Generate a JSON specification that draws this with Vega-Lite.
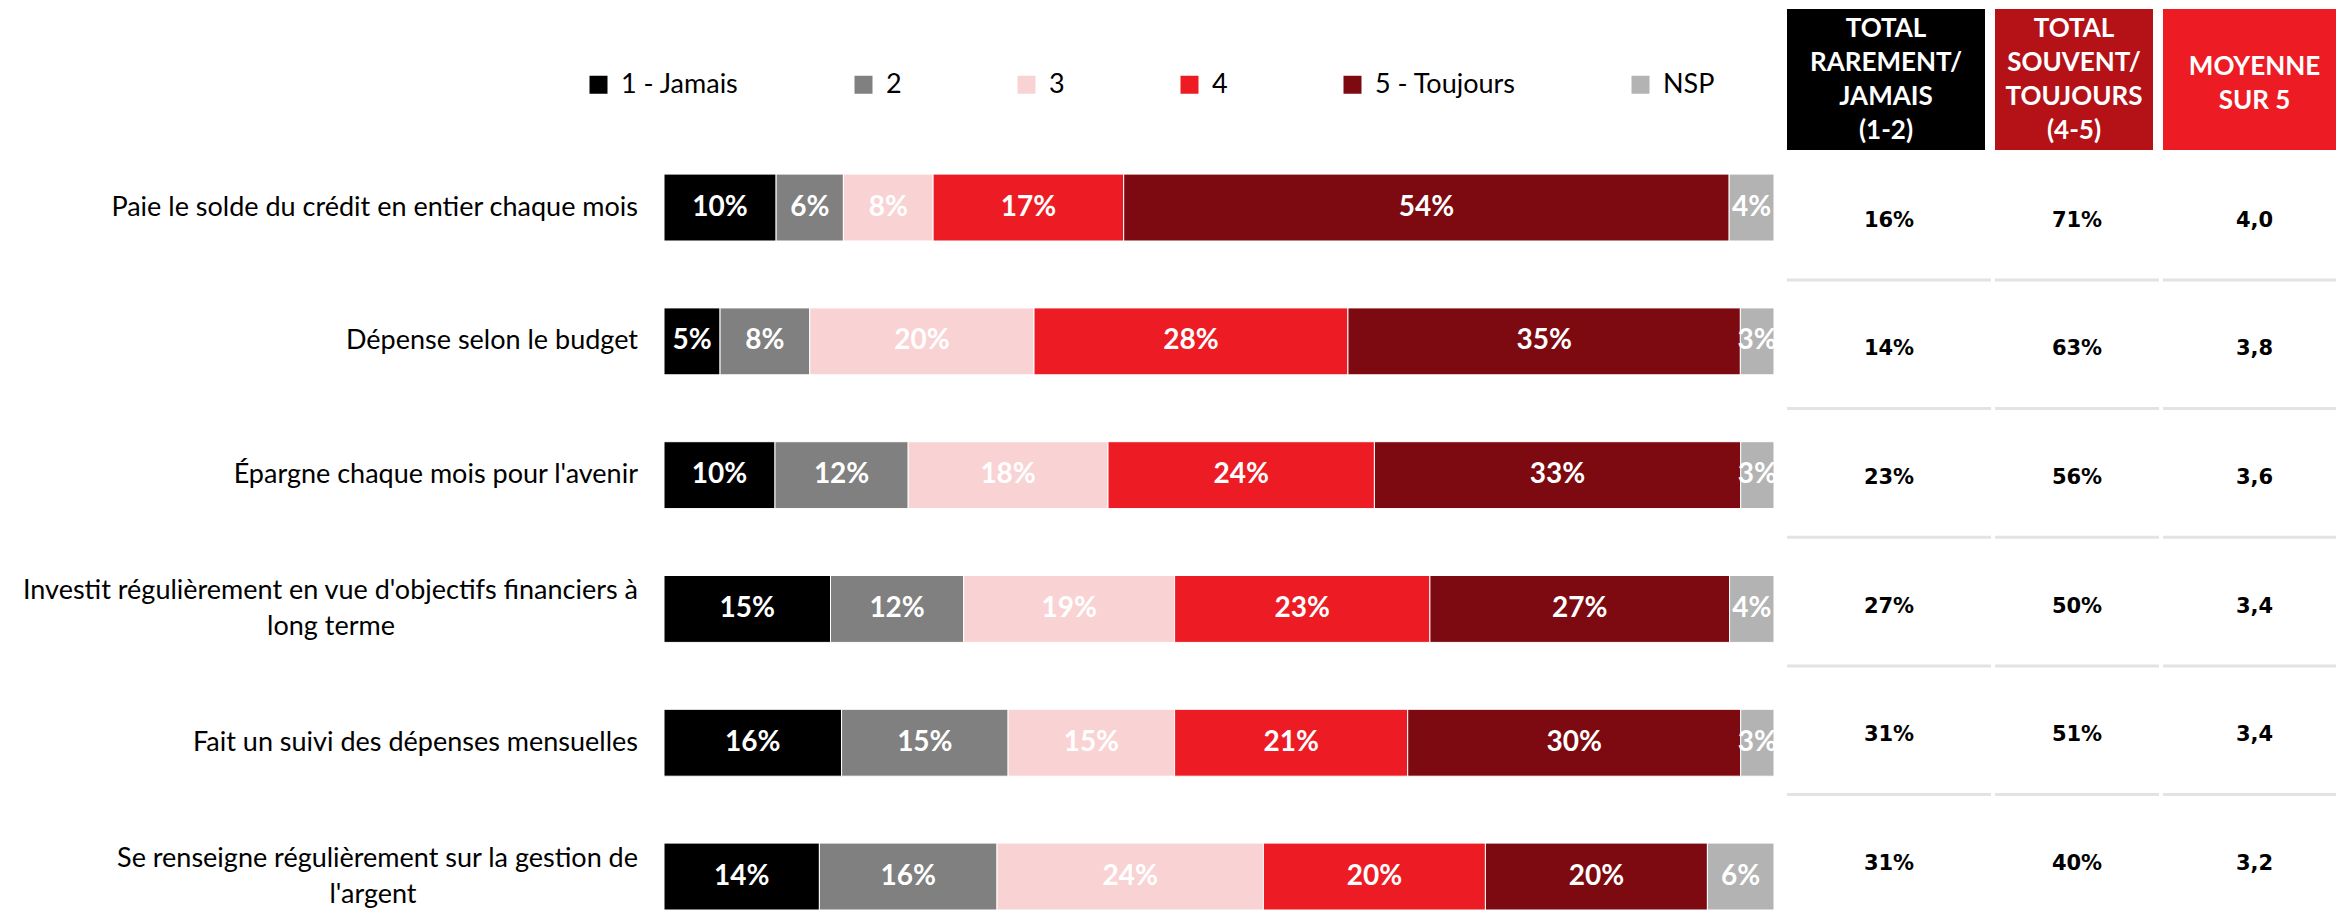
{
  "$schema": "https://vega.github.io/schema/vega-lite/v6.json",
  "background": "white",
  "padding": {"left": 22, "top": 9, "right": 0, "bottom": 0},
  "config": {
    "view": {"stroke": null},
    "font": "Lato",
    "locale": {"number": {"decimal": ",", "thousands": " ", "grouping": [3], "currency": ["", " €"]}}
  },
  "datasets": {
    "bars": [
      {"item": "Paie le solde du crédit en entier chaque mois", "cat": "1 - Jamais", "pct": 0.10},
      {"item": "Paie le solde du crédit en entier chaque mois", "cat": "2", "pct": 0.06},
      {"item": "Paie le solde du crédit en entier chaque mois", "cat": "3", "pct": 0.08},
      {"item": "Paie le solde du crédit en entier chaque mois", "cat": "4", "pct": 0.17},
      {"item": "Paie le solde du crédit en entier chaque mois", "cat": "5 - Toujours", "pct": 0.54},
      {"item": "Paie le solde du crédit en entier chaque mois", "cat": "NSP", "pct": 0.04},
      {"item": "Dépense selon le budget", "cat": "1 - Jamais", "pct": 0.05},
      {"item": "Dépense selon le budget", "cat": "2", "pct": 0.08},
      {"item": "Dépense selon le budget", "cat": "3", "pct": 0.20},
      {"item": "Dépense selon le budget", "cat": "4", "pct": 0.28},
      {"item": "Dépense selon le budget", "cat": "5 - Toujours", "pct": 0.35},
      {"item": "Dépense selon le budget", "cat": "NSP", "pct": 0.03},
      {"item": "Épargne chaque mois pour l'avenir", "cat": "1 - Jamais", "pct": 0.10},
      {"item": "Épargne chaque mois pour l'avenir", "cat": "2", "pct": 0.12},
      {"item": "Épargne chaque mois pour l'avenir", "cat": "3", "pct": 0.18},
      {"item": "Épargne chaque mois pour l'avenir", "cat": "4", "pct": 0.24},
      {"item": "Épargne chaque mois pour l'avenir", "cat": "5 - Toujours", "pct": 0.33},
      {"item": "Épargne chaque mois pour l'avenir", "cat": "NSP", "pct": 0.03},
      {"item": "Investit régulièrement en vue d'objectifs financiers à long terme", "cat": "1 - Jamais", "pct": 0.15},
      {"item": "Investit régulièrement en vue d'objectifs financiers à long terme", "cat": "2", "pct": 0.12},
      {"item": "Investit régulièrement en vue d'objectifs financiers à long terme", "cat": "3", "pct": 0.19},
      {"item": "Investit régulièrement en vue d'objectifs financiers à long terme", "cat": "4", "pct": 0.23},
      {"item": "Investit régulièrement en vue d'objectifs financiers à long terme", "cat": "5 - Toujours", "pct": 0.27},
      {"item": "Investit régulièrement en vue d'objectifs financiers à long terme", "cat": "NSP", "pct": 0.04},
      {"item": "Fait un suivi des dépenses mensuelles", "cat": "1 - Jamais", "pct": 0.16},
      {"item": "Fait un suivi des dépenses mensuelles", "cat": "2", "pct": 0.15},
      {"item": "Fait un suivi des dépenses mensuelles", "cat": "3", "pct": 0.15},
      {"item": "Fait un suivi des dépenses mensuelles", "cat": "4", "pct": 0.21},
      {"item": "Fait un suivi des dépenses mensuelles", "cat": "5 - Toujours", "pct": 0.30},
      {"item": "Fait un suivi des dépenses mensuelles", "cat": "NSP", "pct": 0.03},
      {"item": "Se renseigne régulièrement sur la gestion de l'argent", "cat": "1 - Jamais", "pct": 0.14},
      {"item": "Se renseigne régulièrement sur la gestion de l'argent", "cat": "2", "pct": 0.16},
      {"item": "Se renseigne régulièrement sur la gestion de l'argent", "cat": "3", "pct": 0.24},
      {"item": "Se renseigne régulièrement sur la gestion de l'argent", "cat": "4", "pct": 0.20},
      {"item": "Se renseigne régulièrement sur la gestion de l'argent", "cat": "5 - Toujours", "pct": 0.20},
      {"item": "Se renseigne régulièrement sur la gestion de l'argent", "cat": "NSP", "pct": 0.06}
    ],
    "rows": [
      {"item": "Paie le solde du crédit en entier chaque mois", "l1": "Paie le solde du crédit en entier chaque mois", "rj": 0.16, "st": 0.71, "moy": 4.0},
      {"item": "Dépense selon le budget", "l1": "Dépense selon le budget", "rj": 0.14, "st": 0.63, "moy": 3.8},
      {"item": "Épargne chaque mois pour l'avenir", "l1": "Épargne chaque mois pour l'avenir", "rj": 0.23, "st": 0.56, "moy": 3.6},
      {"item": "Investit régulièrement en vue d'objectifs financiers à long terme", "l1": "Investit régulièrement en vue d'objectifs financiers à", "l2": "long terme", "rj": 0.27, "st": 0.50, "moy": 3.4},
      {"item": "Fait un suivi des dépenses mensuelles", "l1": "Fait un suivi des dépenses mensuelles", "rj": 0.31, "st": 0.51, "moy": 3.4},
      {"item": "Se renseigne régulièrement sur la gestion de l'argent", "l1": "Se renseigne régulièrement sur la gestion de", "l2": "l'argent", "rj": 0.31, "st": 0.40, "moy": 3.2}
    ]
  },
  "hconcat": [
    {
      "width": 1121,
      "height": 901,
      "encoding": {
        "y": {
          "field": "item", "type": "nominal", "title": null, "axis": null,
          "sort": ["Paie le solde du crédit en entier chaque mois", "Dépense selon le budget", "Épargne chaque mois pour l'avenir", "Investit régulièrement en vue d'objectifs financiers à long terme", "Fait un suivi des dépenses mensuelles", "Se renseigne régulièrement sur la gestion de l'argent"],
          "scale": {"paddingInner": 0.5, "paddingOuter": 0.617, "align": 1}
        }
      },
      "layer": [
        {
          "data": {"name": "bars"},
          "mark": {"type": "bar", "stroke": "#ffffff", "strokeWidth": 1},
          "encoding": {
            "x": {"field": "pct", "type": "quantitative", "stack": "normalize", "axis": null,
                  "scale": {"domain": [0, 1.0099], "nice": false}},
            "order": {"field": "cat", "type": "nominal"},
            "color": {
              "field": "cat", "type": "nominal",
              "scale": {
                "domain": ["1 - Jamais", "2", "3", "4", "5 - Toujours", "NSP"],
                "range": ["#000000", "#808080", "#F9D3D4", "#ED1C24", "#7C0A10", "#B3B3B3"]
              },
              "legend": {
                "orient": "none", "legendX": -79, "legendY": 62, "direction": "horizontal",
                "title": null, "symbolType": "square", "symbolSize": 324, "symbolStrokeWidth": 0,
                "symbolOpacity": 1,
                "labelFont": "Lato", "labelFontSize": 27, "labelColor": "#000000",
                "labelOffset": 9, "columnPadding": 111, "labelLimit": 400
              }
            }
          }
        },
        {
          "data": {"name": "bars"},
          "mark": {"type": "text", "color": "#ffffff", "font": "Lato", "fontWeight": "bold", "fontSize": 28, "baseline": "middle"},
          "encoding": {
            "x": {"field": "pct", "type": "quantitative", "stack": "normalize", "bandPosition": 0.5, "axis": null,
                  "scale": {"domain": [0, 1.0099], "nice": false}},
            "order": {"field": "cat", "type": "nominal"},
            "detail": {"field": "cat", "type": "nominal"},
            "text": {"field": "pct", "type": "quantitative", "format": ".0%"}
          }
        },
        {
          "data": {"name": "rows"},
          "transform": [{"filter": "!datum.l2"}],
          "mark": {"type": "text", "align": "right", "baseline": "middle", "dx": -26, "font": "Lato", "fontSize": 27, "color": "#000000"},
          "encoding": {"x": {"datum": 0, "type": "quantitative"}, "text": {"field": "l1"}}
        },
        {
          "data": {"name": "rows"},
          "transform": [{"filter": "datum.l2"}],
          "mark": {"type": "text", "align": "right", "baseline": "middle", "dx": -26, "dy": -18, "font": "Lato", "fontSize": 27, "color": "#000000"},
          "encoding": {"x": {"datum": 0, "type": "quantitative"}, "text": {"field": "l1"}}
        },
        {
          "data": {"name": "rows"},
          "transform": [{"filter": "datum.l2 == 'long terme'"}],
          "mark": {"type": "text", "align": "center", "baseline": "middle", "dx": -333, "dy": 18, "font": "Lato", "fontSize": 27, "color": "#000000"},
          "encoding": {"x": {"datum": 0, "type": "quantitative"}, "text": {"field": "l2"}}
        },
        {
          "data": {"name": "rows"},
          "transform": [{"filter": "datum.l2 == \"l'argent\""}],
          "mark": {"type": "text", "align": "center", "baseline": "middle", "dx": -291, "dy": 18, "font": "Lato", "fontSize": 27, "color": "#000000"},
          "encoding": {"x": {"datum": 0, "type": "quantitative"}, "text": {"field": "l2"}}
        }
      ]
    },
    {
      "spacing": 0,
      "bounds": "flush",
      "vconcat": [
        {
          "width": 204, "height": 141,
          "data": {"values": [{"titre": "TOTAL\nRAREMENT/\nJAMAIS\n(1-2)"}]},
          "layer": [
            {
              "mark": {"type": "rect", "color": "#000000"},
              "encoding": {"x": {"field": "titre", "type": "nominal", "axis": null, "scale": {"paddingInner": 0, "paddingOuter": 0.01515, "align": 0}}}
            },
            {
              "mark": {"type": "text", "color": "#ffffff", "font": "Lato", "fontWeight": "bold", "fontSize": 26, "lineHeight": 34, "lineBreak": "\n", "baseline": "middle", "dy": -51},
              "encoding": {"x": {"field": "titre", "type": "nominal", "axis": null, "scale": {"paddingInner": 0, "paddingOuter": 0.01515, "align": 0}}, "text": {"field": "titre"}}
            }
          ]
        },
        {
          "width": 204, "height": 772,
          "data": {"name": "rows"},
          "encoding": {"y": {"field": "item", "type": "nominal", "axis": null, "scale": {"paddingInner": 0, "paddingOuter": 0},
            "sort": ["Paie le solde du crédit en entier chaque mois", "Dépense selon le budget", "Épargne chaque mois pour l'avenir", "Investit régulièrement en vue d'objectifs financiers à long terme", "Fait un suivi des dépenses mensuelles", "Se renseigne régulièrement sur la gestion de l'argent"]}},
          "layer": [
            {
              "mark": {"type": "text", "font": "DejaVu Sans", "fontWeight": "bold", "fontSize": 21, "color": "#000000", "baseline": "middle"},
              "encoding": {"y": {"field": "item", "type": "nominal", "bandPosition": 0.55,
                "sort": ["Paie le solde du crédit en entier chaque mois", "Dépense selon le budget", "Épargne chaque mois pour l'avenir", "Investit régulièrement en vue d'objectifs financiers à long terme", "Fait un suivi des dépenses mensuelles", "Se renseigne régulièrement sur la gestion de l'argent"]},
                "text": {"field": "rj", "type": "quantitative", "format": ".0%"}}
            },
            {
              "transform": [{"filter": "indexof(datum.item, 'Paie le solde') < 0"}],
              "mark": {"type": "rule", "color": "#E3E3E3", "strokeWidth": 3},
              "encoding": {"y": {"field": "item", "type": "nominal", "bandPosition": 0.01,
                "sort": ["Paie le solde du crédit en entier chaque mois", "Dépense selon le budget", "Épargne chaque mois pour l'avenir", "Investit régulièrement en vue d'objectifs financiers à long terme", "Fait un suivi des dépenses mensuelles", "Se renseigne régulièrement sur la gestion de l'argent"]}}
            }
          ]
        }
      ]
    },
    {
      "spacing": 0,
      "bounds": "flush",
      "vconcat": [
        {
          "width": 164, "height": 141,
          "data": {"values": [{"titre": "TOTAL\nSOUVENT/\nTOUJOURS\n(4-5)"}]},
          "layer": [
            {
              "mark": {"type": "rect", "color": "#B51218"},
              "encoding": {"x": {"field": "titre", "type": "nominal", "axis": null, "scale": {"paddingInner": 0, "paddingOuter": 0.01899, "align": 0}}}
            },
            {
              "mark": {"type": "text", "color": "#ffffff", "font": "Lato", "fontWeight": "bold", "fontSize": 26, "lineHeight": 34, "lineBreak": "\n", "baseline": "middle", "dy": -51},
              "encoding": {"x": {"field": "titre", "type": "nominal", "axis": null, "scale": {"paddingInner": 0, "paddingOuter": 0.01899, "align": 0}}, "text": {"field": "titre"}}
            }
          ]
        },
        {
          "width": 164, "height": 772,
          "data": {"name": "rows"},
          "encoding": {"y": {"field": "item", "type": "nominal", "axis": null, "scale": {"paddingInner": 0, "paddingOuter": 0},
            "sort": ["Paie le solde du crédit en entier chaque mois", "Dépense selon le budget", "Épargne chaque mois pour l'avenir", "Investit régulièrement en vue d'objectifs financiers à long terme", "Fait un suivi des dépenses mensuelles", "Se renseigne régulièrement sur la gestion de l'argent"]}},
          "layer": [
            {
              "mark": {"type": "text", "font": "DejaVu Sans", "fontWeight": "bold", "fontSize": 21, "color": "#000000", "baseline": "middle"},
              "encoding": {"y": {"field": "item", "type": "nominal", "bandPosition": 0.55,
                "sort": ["Paie le solde du crédit en entier chaque mois", "Dépense selon le budget", "Épargne chaque mois pour l'avenir", "Investit régulièrement en vue d'objectifs financiers à long terme", "Fait un suivi des dépenses mensuelles", "Se renseigne régulièrement sur la gestion de l'argent"]},
                "text": {"field": "st", "type": "quantitative", "format": ".0%"}}
            },
            {
              "transform": [{"filter": "indexof(datum.item, 'Paie le solde') < 0"}],
              "mark": {"type": "rule", "color": "#E3E3E3", "strokeWidth": 3},
              "encoding": {"y": {"field": "item", "type": "nominal", "bandPosition": 0.01,
                "sort": ["Paie le solde du crédit en entier chaque mois", "Dépense selon le budget", "Épargne chaque mois pour l'avenir", "Investit régulièrement en vue d'objectifs financiers à long terme", "Fait un suivi des dépenses mensuelles", "Se renseigne régulièrement sur la gestion de l'argent"]}}
            }
          ]
        }
      ]
    },
    {
      "spacing": 0,
      "bounds": "flush",
      "vconcat": [
        {
          "width": 183, "height": 141,
          "data": {"values": [{"titre": "MOYENNE\nSUR 5"}]},
          "layer": [
            {
              "mark": {"type": "rect", "color": "#ED1C24"},
              "encoding": {"x": {"field": "titre", "type": "nominal", "axis": null, "scale": {"paddingInner": 0, "paddingOuter": 0}}}
            },
            {
              "mark": {"type": "text", "color": "#ffffff", "font": "Lato", "fontWeight": "bold", "fontSize": 26, "lineHeight": 34, "lineBreak": "\n", "baseline": "middle", "dy": -13},
              "encoding": {"x": {"field": "titre", "type": "nominal", "axis": null, "scale": {"paddingInner": 0, "paddingOuter": 0}}, "text": {"field": "titre"}}
            }
          ]
        },
        {
          "width": 183, "height": 772,
          "data": {"name": "rows"},
          "encoding": {"y": {"field": "item", "type": "nominal", "axis": null, "scale": {"paddingInner": 0, "paddingOuter": 0},
            "sort": ["Paie le solde du crédit en entier chaque mois", "Dépense selon le budget", "Épargne chaque mois pour l'avenir", "Investit régulièrement en vue d'objectifs financiers à long terme", "Fait un suivi des dépenses mensuelles", "Se renseigne régulièrement sur la gestion de l'argent"]}},
          "layer": [
            {
              "mark": {"type": "text", "font": "DejaVu Sans", "fontWeight": "bold", "fontSize": 21, "color": "#000000", "baseline": "middle"},
              "encoding": {"y": {"field": "item", "type": "nominal", "bandPosition": 0.55,
                "sort": ["Paie le solde du crédit en entier chaque mois", "Dépense selon le budget", "Épargne chaque mois pour l'avenir", "Investit régulièrement en vue d'objectifs financiers à long terme", "Fait un suivi des dépenses mensuelles", "Se renseigne régulièrement sur la gestion de l'argent"]},
                "text": {"field": "moy", "type": "quantitative", "format": ".1f"}}
            },
            {
              "transform": [{"filter": "indexof(datum.item, 'Paie le solde') < 0"}],
              "mark": {"type": "rule", "color": "#E3E3E3", "strokeWidth": 3},
              "encoding": {"y": {"field": "item", "type": "nominal", "bandPosition": 0.01,
                "sort": ["Paie le solde du crédit en entier chaque mois", "Dépense selon le budget", "Épargne chaque mois pour l'avenir", "Investit régulièrement en vue d'objectifs financiers à long terme", "Fait un suivi des dépenses mensuelles", "Se renseigne régulièrement sur la gestion de l'argent"]}}
            }
          ]
        }
      ]
    }
  ],
  "spacing": 0,
  "bounds": "full",
  "resolve": {"scale": {"color": "independent"}, "legend": {"color": "independent"}}
}
